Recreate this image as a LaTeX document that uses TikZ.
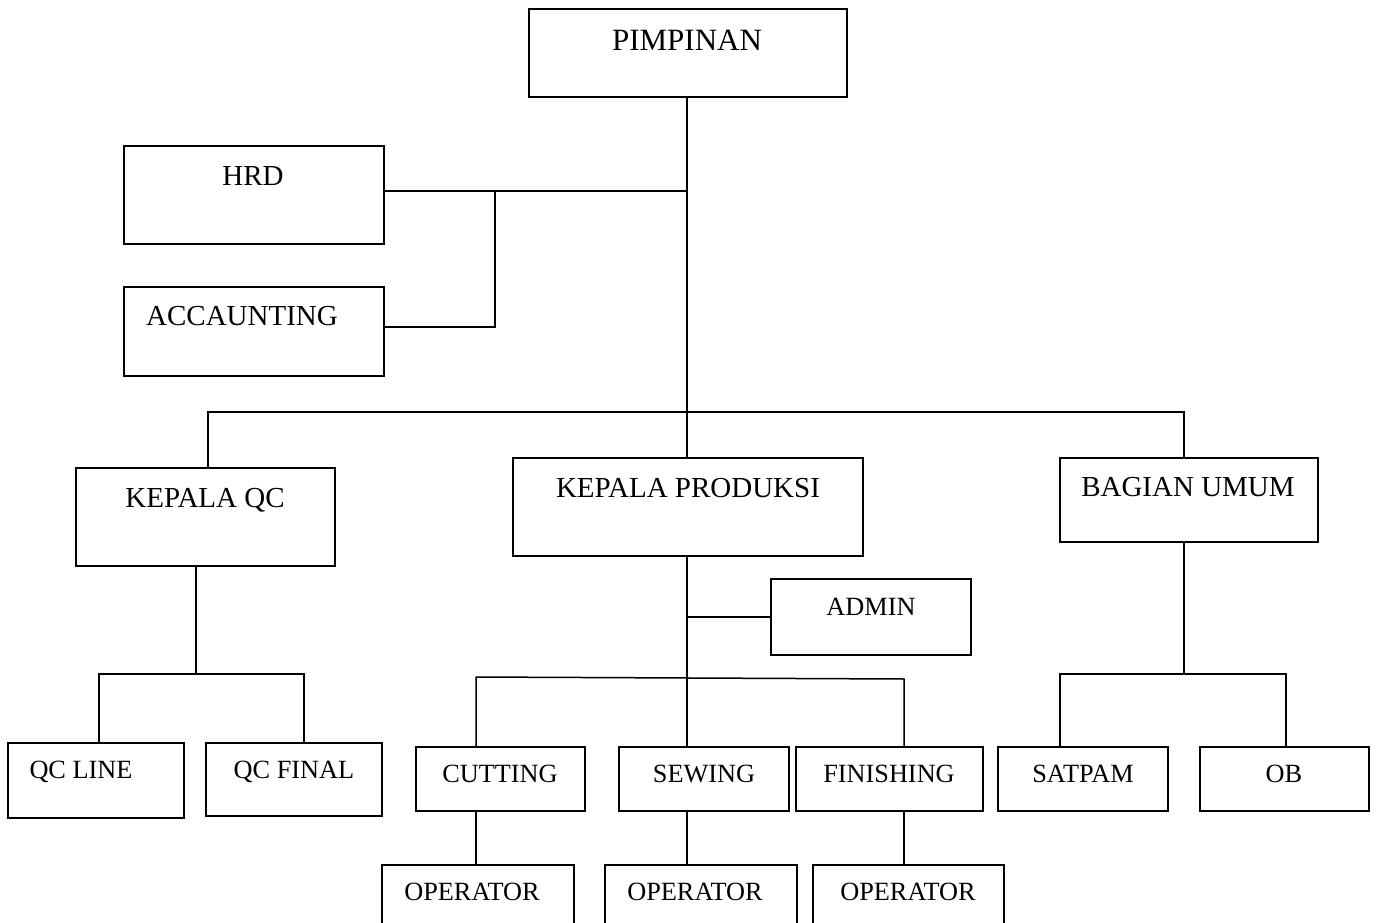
\documentclass[tikz,border=0pt]{standalone}
\usepackage{fontspec}
\setmainfont{Liberation Serif}
\usetikzlibrary{calc}

\begin{document}
\begin{tikzpicture}[x=1pt, y=-1pt, line width=1.5pt,
    box/.style={draw, inner sep=0pt},
    bigtxt/.style={anchor=base, font=\fontsize{31}{36}\selectfont},
    midtxt/.style={anchor=base, font=\fontsize{29}{34}\selectfont},
    smalltxt/.style={anchor=base, font=\fontsize{26.3}{31}\selectfont}]
  \useasboundingbox (0,0) rectangle (1376,923);
  % Top and staff boxes.
  \node[box, minimum width=318, minimum height=88] (pim) at (688,53) {};
  \node[box, minimum width=260, minimum height=98] (hrd) at (254,195) {};
  \node[box, minimum width=260, minimum height=89] (acc) at (254,331.5) {};
  % Heads.
  \node[box, minimum width=259, minimum height=98] (kqc) at (205.5,517) {};
  \node[box, minimum width=350, minimum height=98] (kpro) at (688,507) {};
  \node[box, minimum width=258, minimum height=84] (umum) at (1189,500) {};
  \node[box, minimum width=200, minimum height=76] (admin) at (871,617) {};
  % Sections.
  \node[box, minimum width=176, minimum height=75] (qcl) at (96,780.5) {};
  \node[box, minimum width=176, minimum height=73] (qcf) at (294,779.5) {};
  \node[box, minimum width=169, minimum height=64] (cut) at (500.5,779) {};
  \node[box, minimum width=170, minimum height=64] (sew) at (704,779) {};
  \node[box, minimum width=187, minimum height=64] (fin) at (889.5,779) {};
  \node[box, minimum width=170, minimum height=64] (sat) at (1083,779) {};
  \node[box, minimum width=169, minimum height=64] (ob) at (1284.5,779) {};
  \node[box, minimum width=192, minimum height=80] (op1) at (478,905) {};
  \node[box, minimum width=192, minimum height=80] (op2) at (701,905) {};
  \node[box, minimum width=191, minimum height=80] (op3) at (908.5,905) {};

  % Labels.
  \node[bigtxt] (pim-t) at (687,51) {PIMPINAN};
  \node[midtxt] (hrd-t) at (253,185) {HRD};
  \node[midtxt] (acc-t) at (242,325) {ACCAUNTING};
  \node[midtxt] (kqc-t) at (205,507) {KEPALA QC};
  \node[midtxt] (kpro-t) at (688,497) {KEPALA PRODUKSI};
  \node[midtxt] (umum-t) at (1188,496) {BAGIAN UMUM};
  \node[smalltxt] (admin-t) at (871,615) {ADMIN};
  \node[smalltxt] (qcl-t) at (81,778) {QC LINE};
  \node[smalltxt] (qcf-t) at (294,778) {QC FINAL};
  \node[smalltxt] (cut-t) at (500,782) {CUTTING};
  \node[smalltxt] (sew-t) at (704,782) {SEWING};
  \node[smalltxt] (fin-t) at (889,782) {FINISHING};
  \node[smalltxt] (sat-t) at (1083,782) {SATPAM};
  \node[smalltxt] (ob-t) at (1284,782) {OB};
  \node[smalltxt] (op1-t) at (472,900) {OPERATOR};
  \node[smalltxt] (op2-t) at (695,900) {OPERATOR};
  \node[smalltxt] (op3-t) at (908,900) {OPERATOR};

  % Junctions.
  \coordinate (hj) at (495,191);
  \coordinate (aj) at (495,327);
  \coordinate (bl) at (687,412);
  \coordinate (qj) at (196,674);
  \coordinate (pl) at (476,677);
  \coordinate (pr) at (904,679);
  \coordinate (uj) at (1184,674);

  % Main trunk and staff.
  \draw (pim.south -| bl) -- (kpro.north -| bl);
  \draw (hrd.east |- hj) -- (hj -| bl);
  \draw (acc.east |- aj) -- (aj) -- (hj);
  \draw ([xshift=2.5pt]kqc.north) |- (bl) -| ([xshift=-5pt]umum.north);
  % Kepala QC.
  \draw (kqc.south -| qj) -- (qj);
  \draw ([xshift=3pt]qcl.north) |- (qj) -| ([xshift=10pt]qcf.north);
  % Kepala produksi.
  \draw (kpro.south -| bl) -- (sew.north -| bl);
  \draw (admin.west) -- (admin.west -| bl);
  \draw (cut.north -| pl) -- (pl) -- (pr) -- (fin.north -| pr);
  \draw (cut.south -| pl) -- (op1.north -| pl);
  \draw (sew.south -| bl) -- (op2.north -| bl);
  \draw (fin.south -| pr) -- (op3.north -| pr);
  % Bagian umum.
  \draw (umum.south -| uj) -- (uj);
  \draw ([xshift=-23pt]sat.north) |- (uj) -| ([xshift=1.5pt]ob.north);
\end{tikzpicture}
\end{document}
